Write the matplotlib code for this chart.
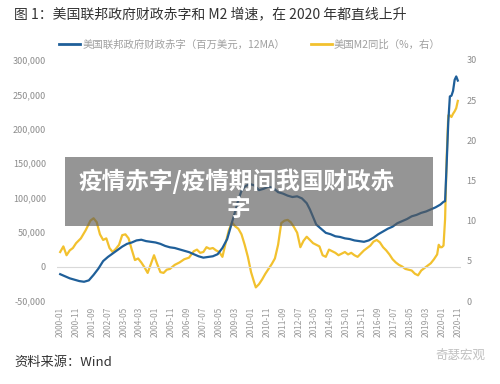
import matplotlib
matplotlib.use('Agg')
import matplotlib.pyplot as plt
from matplotlib.patches import Rectangle
from matplotlib.lines import Line2D
import pandas as pd

plt.rcParams['font.family'] = ['Noto Sans CJK SC', 'DejaVu Sans']
plt.rcParams['axes.unicode_minus'] = False

# 月份 (2000-01 ~ 2020-11)
months = pd.period_range('2000-01', '2020-11', freq='M').strftime('%Y-%m').tolist()
tick_idx = list(range(0, len(months), 10))
tick_labels = [months[i] for i in tick_idx]

# 美国联邦政府财政赤字 (百万美元, 12MA) —— 读图取点 (月序号, 数值)
deficit_idx = [0, 3, 6, 9, 12, 15, 18, 21, 24, 27, 30, 33, 36, 39, 42, 45, 48, 51, 54, 57,
               60, 63, 66, 69, 72, 75, 78, 81, 84, 87, 90, 93, 96, 99, 102, 105, 108, 110, 112, 114,
               116, 119, 122, 125, 128, 131, 134, 137, 140, 143, 146, 149, 152, 155, 157, 159, 161, 164, 167, 170,
               173, 176, 179, 182, 185, 188, 191, 194, 197, 200, 203, 206, 209, 212, 215, 218, 221, 224, 227, 230,
               233, 236, 239, 240, 241, 242, 243, 244, 245, 246, 247, 248, 249, 250]
deficit = [-11000, -14000, -17000, -19000, -21000, -22000, -20000, -12000, -3000, 8000,
           14000, 19000, 24000, 29000, 33000, 35000, 38000, 39000, 37000, 36000,
           35000, 33000, 30000, 28000, 27000, 25000, 23000, 21000, 18000, 15000,
           13000, 14000, 15000, 18000, 27000, 40000, 64000, 80000, 97000, 110000,
           116000, 120000, 118000, 111000, 113000, 116000, 114000, 108000, 106000, 103000,
           101000, 102000, 99000, 92000, 83000, 72000, 61000, 55000, 49000, 47000,
           44000, 43000, 41000, 40000, 38000, 37000, 36000, 38000, 42000, 47000,
           51000, 55000, 58000, 63000, 66000, 69000, 73000, 75000, 78000, 80000,
           83000, 86000, 90000, 92000, 94000, 95000, 150000, 210000, 247000, 248000,
           255000, 271000, 276000, 270000]

# 美国M2同比 (%, 右轴)
m2_idx = [0, 2, 4, 6, 8, 10, 13, 16, 19, 21, 23, 25, 27, 29, 31, 33, 35, 37, 39, 41,
          43, 45, 47, 49, 51, 53, 55, 57, 59, 61, 63, 65, 67, 69, 72, 75, 78, 81, 84, 86,
          88, 90, 92, 94, 96, 98, 100, 102, 104, 106, 108, 110, 112, 114, 116, 118, 120, 122, 123, 125,
          127, 129, 131, 133, 135, 137, 139, 141, 143, 145, 147, 149, 151, 153, 155, 157, 159, 161, 163, 165,
          167, 169, 171, 173, 175, 177, 179, 181, 183, 185, 187, 189, 191, 193, 195, 197, 199, 201, 203, 205,
          207, 209, 211, 213, 215, 217, 219, 221, 223, 225, 227, 229, 231, 233, 235, 237, 238, 239, 240, 241,
          242, 243, 244, 245, 246, 247, 248, 249, 250]
m2 = [6.1, 6.8, 5.7, 6.3, 6.6, 7.2, 7.8, 8.8, 10.0, 10.3, 9.8, 8.3, 7.6, 7.8, 6.6, 6.1, 6.5, 7.0, 8.2, 8.3,
      7.8, 6.4, 5.1, 5.3, 4.8, 4.2, 3.5, 4.6, 5.7, 4.6, 3.6, 3.5, 3.9, 4.0, 4.5, 4.8, 5.2, 5.4, 6.2, 6.4,
      6.0, 6.1, 6.7, 6.5, 6.6, 6.3, 6.1, 5.5, 7.2, 8.8, 9.8, 9.3, 9.0, 8.3, 7.0, 5.5, 3.6, 2.3, 1.7, 2.1,
      2.7, 3.4, 4.0, 4.6, 5.3, 7.0, 9.7, 10.0, 10.1, 9.8, 9.2, 8.5, 6.7, 7.5, 8.0, 7.6, 7.2, 7.0, 6.8, 5.7,
      5.5, 6.4, 6.2, 6.0, 5.7, 5.9, 6.1, 5.8, 6.0, 5.7, 5.5, 5.9, 6.3, 6.6, 6.9, 7.4, 7.6, 7.3, 6.7, 6.3,
      5.8, 5.2, 4.8, 4.5, 4.3, 4.0, 3.9, 3.8, 3.4, 3.2, 3.8, 4.1, 4.4, 4.7, 5.2, 5.8, 7.0, 6.7, 6.7, 6.9,
      10.2, 17.9, 23.1, 23.1, 22.9, 23.3, 23.6, 24.0, 24.9]

left_ticks = [-50000, 0, 50000, 100000, 150000, 200000, 250000, 300000]
right_ticks = [0, 5, 10, 15, 20, 25, 30]

blue = '#1f5f99'
gold = '#f2c12e'
gray = '#8c8c8c'

fig = plt.figure(figsize=(5, 3.84), dpi=100)
ax = fig.add_axes([0.114, 0.216, 0.808, 0.628])
ax2 = ax.twinx()

ax.plot(deficit_idx, deficit, color=blue, lw=1.6, zorder=3)
ax2.plot(m2_idx, m2, color=gold, lw=1.6, zorder=2)
ax.set_zorder(ax2.get_zorder() + 1)
ax.patch.set_visible(False)

ax.axhline(0, color='#d9d9d9', lw=0.8, zorder=1)
ax.set_xlim(-2, 252)
ax.set_ylim(-50000, 300000)
ax2.set_ylim(0, 30)

ax.set_yticks(left_ticks)
ax.set_yticklabels([f'{v:,}' for v in left_ticks], fontsize=6.5, color=gray)
ax2.set_yticks(right_ticks)
ax2.set_yticklabels([str(v) for v in right_ticks], fontsize=6.5, color=gray)
ax.set_xticks(tick_idx)
ax.set_xticklabels(tick_labels, rotation=90, fontsize=6, color='#9a9a9a')
for a in (ax, ax2):
    for s in a.spines.values():
        s.set_visible(False)
    a.tick_params(length=0, pad=4)
ax.tick_params(axis='y', pad=8)
ax2.tick_params(axis='y', pad=4)

# 图例
handles = [Line2D([], [], color=blue, lw=2), Line2D([], [], color=gold, lw=2)]
fig.legend(handles, ['美国联邦政府财政赤字（百万美元，12MA）', '美国M2同比（%，右）'],
           loc='center', bbox_to_anchor=(0.5, 0.883), ncol=2, frameon=False,
           fontsize=7.5, labelcolor='#a0a0a0', handlelength=2.0, handletextpad=0.2,
           columnspacing=2.5)

fig.text(0.028, 0.963, '图 1：美国联邦政府财政赤字和 M2 增速，在 2020 年都直线上升',
         fontsize=10, color='#333333', va='center')
fig.text(0.028, 0.055, '资料来源：Wind', fontsize=9.5, color='#333333', va='center')
fig.text(0.97, 0.075, '奇瑟宏观', fontsize=9, color='#c0c0c0', va='center', ha='right')

# 灰色遮罩与白色标题
fig.add_artist(Rectangle((0.13, 0.411), 0.736, 0.18, transform=fig.transFigure,
                         facecolor='#5a5a5a', alpha=0.64, edgecolor='none', zorder=10))
fig.text(0.474, 0.527, '疫情赤字/疫情期间我国财政赤', fontsize=17, color='white',
         fontweight='bold', ha='center', va='center', zorder=11)
fig.text(0.476, 0.455, '字', fontsize=17, color='white',
         fontweight='bold', ha='center', va='center', zorder=11)

fig.savefig('out.png', dpi=100)
